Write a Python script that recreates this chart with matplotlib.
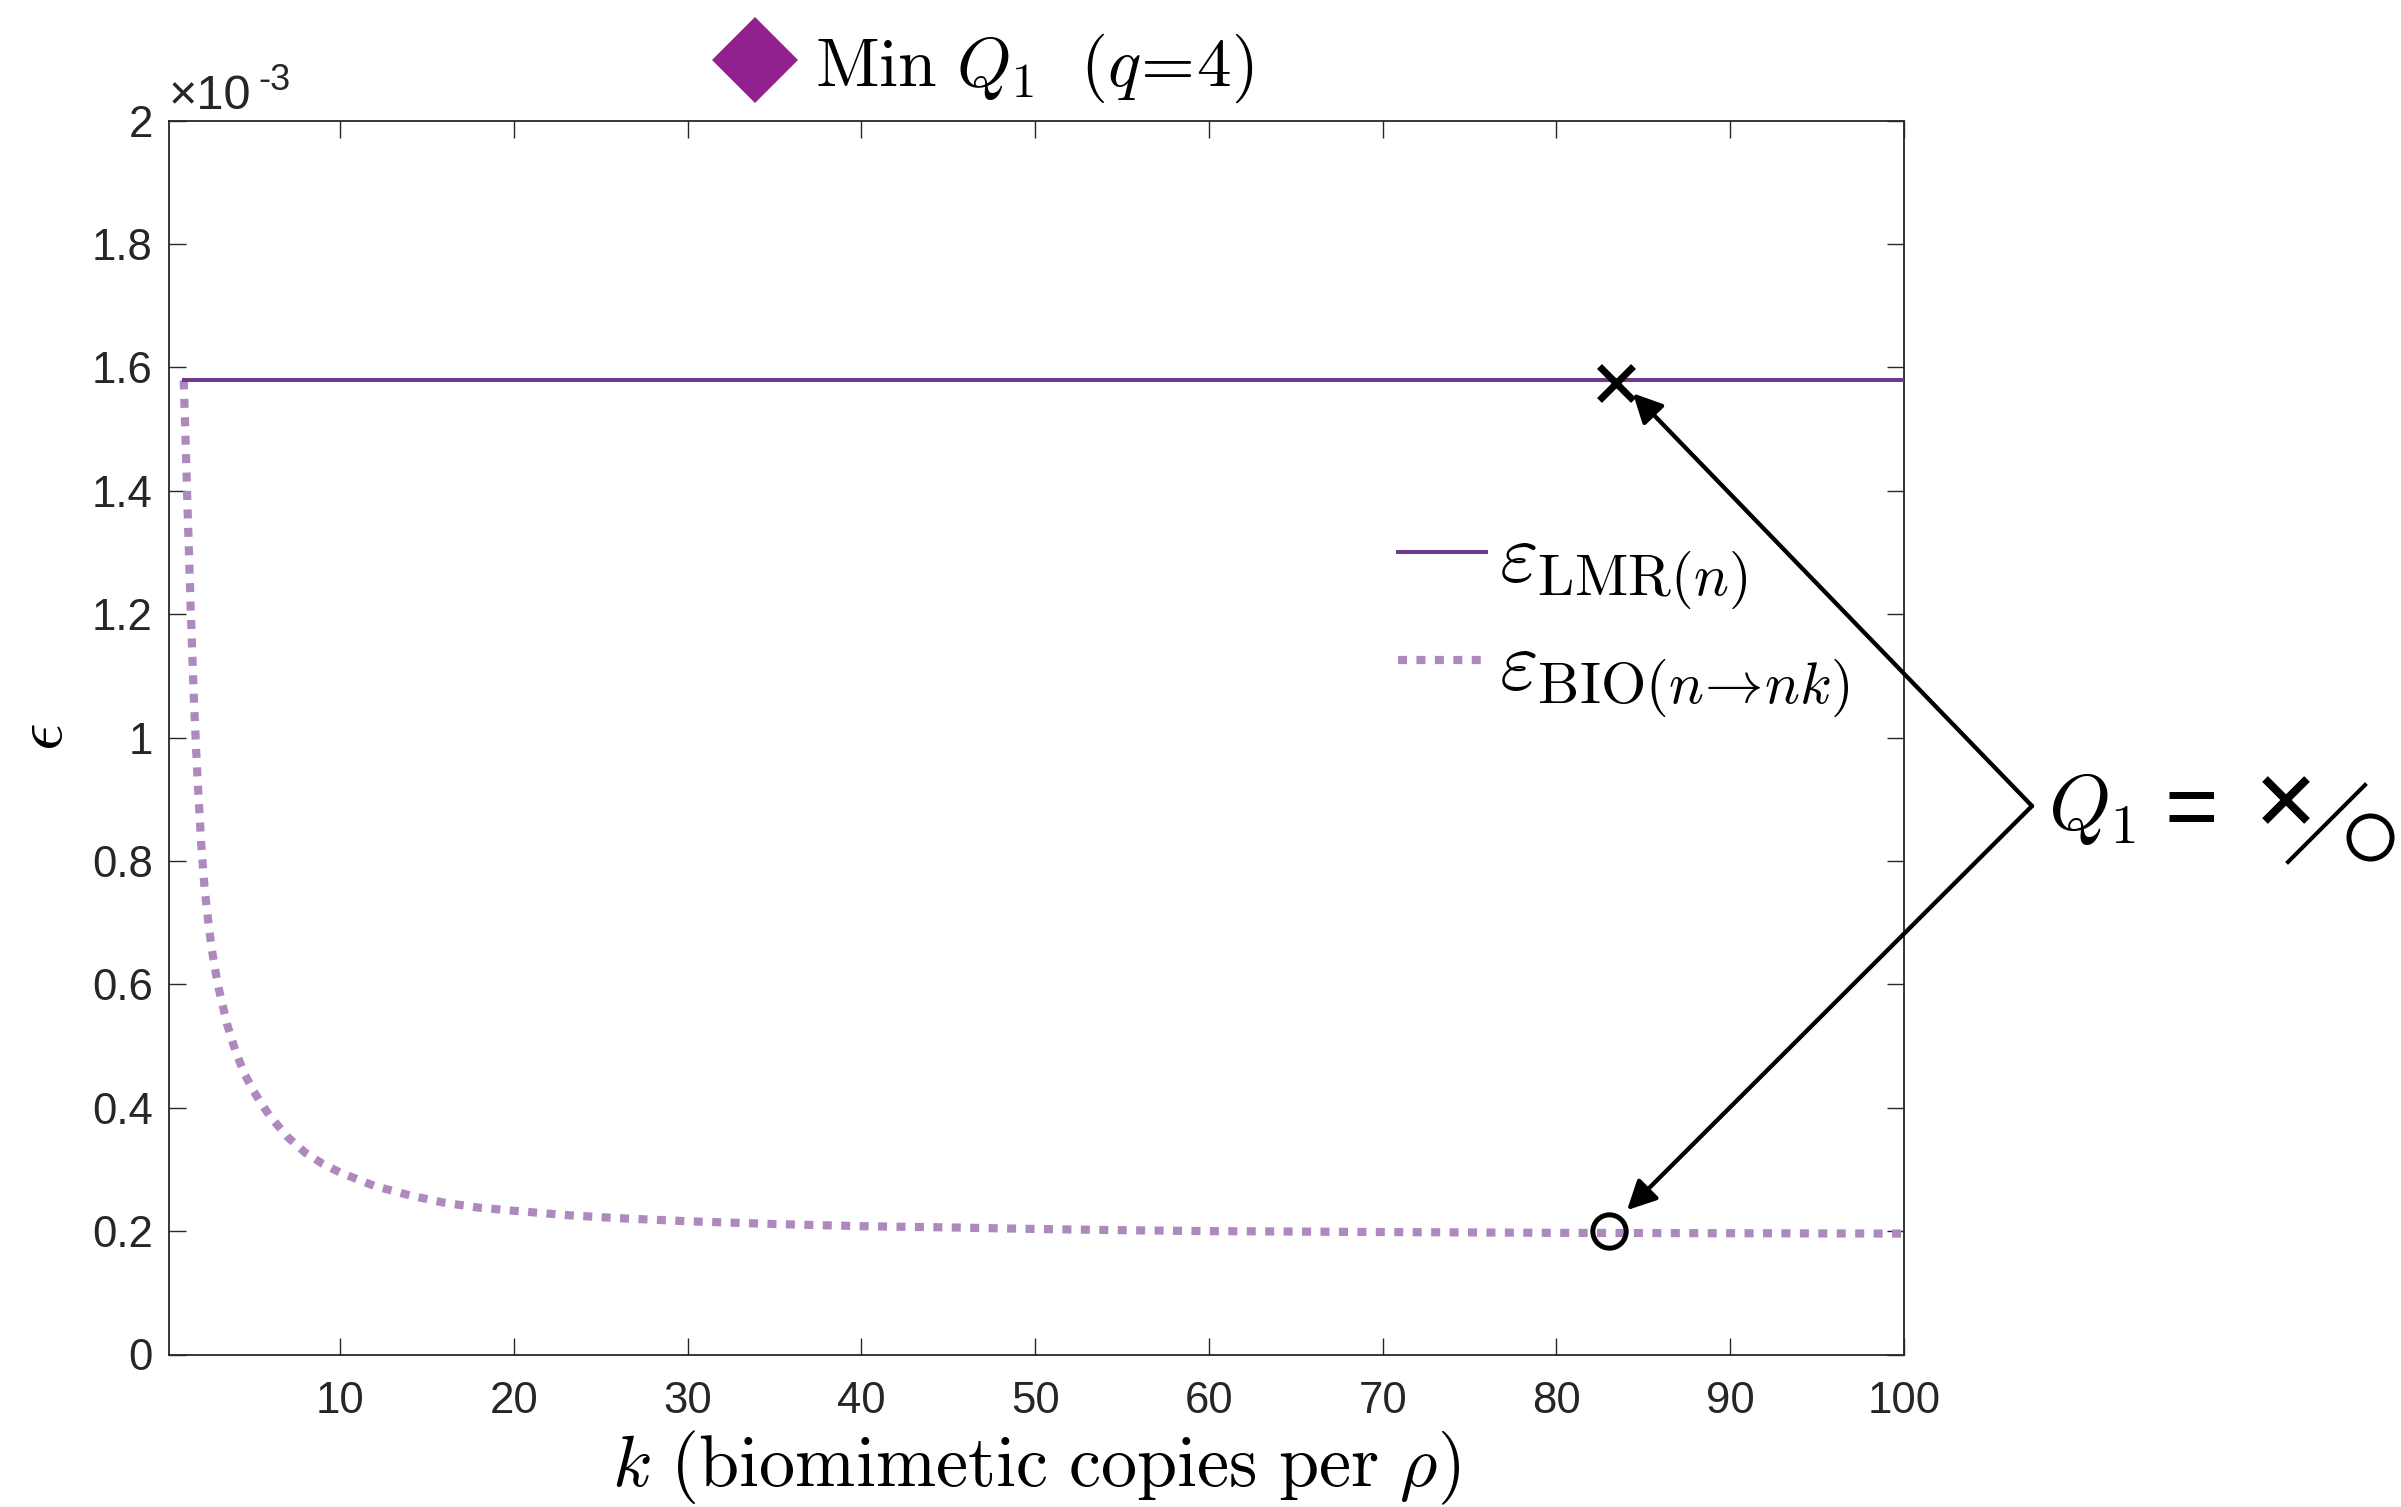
import matplotlib
matplotlib.use('Agg')
import matplotlib.pyplot as plt
from matplotlib.lines import Line2D
from matplotlib.ticker import FuncFormatter

plt.rcParams['mathtext.fontset'] = 'cm'
plt.rcParams['font.family'] = ['Liberation Sans', 'DejaVu Sans']

# ---------------- data (epsilon in units of 1e-3) ----------------
k_lmr = [1, 100]
eps_lmr = [1.579, 1.579]

k_bio = [1.0, 1.1, 1.2, 1.3, 1.4, 1.5, 1.6, 1.7, 1.8, 2.0, 2.2, 2.4, 2.6, 2.8,
         3.0, 3.5, 4.0, 4.5, 5.0, 5.5, 6.0, 7.0, 8.0, 9.0, 10, 12, 14, 16, 18,
         20, 23, 26, 30, 35, 40, 45, 50, 55, 60, 70, 80, 90, 100]
eps_bio = [1.579, 1.49, 1.39, 1.30, 1.21, 1.13, 1.05, 0.99, 0.93, 0.83, 0.755,
           0.705, 0.66, 0.625, 0.595, 0.535, 0.49, 0.455, 0.428, 0.405, 0.385,
           0.352, 0.327, 0.309, 0.295, 0.273, 0.258, 0.246, 0.238, 0.233,
           0.226, 0.221, 0.216, 0.2115, 0.208, 0.206, 0.2035, 0.2015, 0.200,
           0.1985, 0.1972, 0.1966, 0.196]

q1_k_lmr, q1_eps_lmr = 83.4, 1.575
q1_k_bio, q1_eps_bio = 83.0, 0.201

x_ticks = [10, 20, 30, 40, 50, 60, 70, 80, 90, 100]
y_ticks = [0, 0.2, 0.4, 0.6, 0.8, 1.0, 1.2, 1.4, 1.6, 1.8, 2.0]

label_lmr = r'$\varepsilon_{\mathrm{LMR}(n)}$'
label_bio = r'$\varepsilon_{\mathrm{BIO}(n\!\rightarrow\! nk)}$'
title_txt = r'$\mathrm{Min}\ Q_1\ \ (q\!=\!4)$'
xlabel_txt = r'$k\ (\mathrm{biomimetic\ copies\ per}\ \rho)$'
ylabel_txt = r'$\epsilon$'

# ---------------- colours ----------------
c_lmr = '#6C3B8C'
c_bio = '#AD89BD'
c_diamond = '#92208F'
c_axis = '#262626'

W, H = 2401, 1507
fig = plt.figure(figsize=(W / 100, H / 100), dpi=100)
ax = fig.add_axes([169.3 / W, 1 - 1354.5 / H, (1904 - 169.3) / W, (1354.5 - 120.7) / H])

ax.plot(k_bio, eps_bio, color=c_bio, lw=5.9, linestyle=(0, (1.1, 1.15)),
        dash_capstyle='butt', label=label_bio, zorder=2)
ax.plot(k_lmr, eps_lmr, color=c_lmr, lw=2.9, label=label_lmr, zorder=3)

ax.plot([q1_k_lmr], [q1_eps_lmr], marker='x', color='black', markersize=24.5,
        mew=5.0, linestyle='none', zorder=5)
ax.plot([q1_k_bio], [q1_eps_bio], marker='o', mfc='none', mec='black',
        markersize=24, mew=3.6, linestyle='none', zorder=5)

ax.set_xlim(0.17, 100)
ax.set_ylim(0, 2)
ax.set_xticks(x_ticks)
ax.set_yticks(y_ticks)
ax.yaxis.set_major_formatter(FuncFormatter(lambda v, p: '%g' % round(v, 3)))
ax.tick_params(direction='in', length=12.2, width=1.0, top=True, right=True,
               labelsize=31.5, colors=c_axis, labelcolor=c_axis)
ax.tick_params(axis='y', pad=12)
ax.tick_params(axis='x', pad=19)
for s in ax.spines.values():
    s.set_color(c_axis)
    s.set_linewidth(1.3)

ax.set_xlabel(xlabel_txt, fontsize=52)
ax.xaxis.set_label_coords(0.5, -0.060)
ax.set_ylabel(ylabel_txt, fontsize=49)
ax.yaxis.set_label_coords(-0.054, 0.5)

# x10^-3 multiplier
fig.text(169 / W, 1 - 109 / H, '\u00d710', fontsize=35, color=c_axis, va='baseline', ha='left')
fig.text(258 / W, 1 - 90 / H, '-3', fontsize=26, color=c_axis, va='baseline', ha='left')

# legend
handles = [Line2D([], [], color=c_lmr, lw=2.9),
           Line2D([], [], color=c_bio, lw=5.9, linestyle=(0, (1.1, 1.15)), dash_capstyle='butt')]
leg = ax.legend(handles, [label_lmr, label_bio], frameon=False, fontsize=60,
                handlelength=1.05, handletextpad=0.16, borderpad=0, borderaxespad=0,
                labelspacing=0.2, loc='upper left',
                bbox_to_anchor=(1398 / W, 1 - 520 / H), bbox_transform=fig.transFigure)

# title-like legend entry: diamond + text
fig.add_artist(Line2D([754.5 / W], [1 - 59.5 / H], marker='D', markersize=44,
                      color=c_diamond, mew=0, linestyle='none', transform=fig.transFigure))
fig.text(815 / W, 1 - 86 / H, title_txt, fontsize=50, va='baseline', ha='left')

# arrows from the Q1 annotation to the markers
vertex = (2032 / W, 1 - 806 / H)
aprops = dict(arrowstyle='-|>,head_length=0.4,head_width=0.2', mutation_scale=44,
              lw=3.1, color='black', shrinkA=0, shrinkB=0)
ax.annotate('', xy=(84.4, 1.558), xycoords='data', xytext=vertex,
            textcoords='figure fraction', arrowprops=aprops, annotation_clip=False)
ax.annotate('', xy=(84.06, 0.234), xycoords='data', xytext=vertex,
            textcoords='figure fraction', arrowprops=aprops, annotation_clip=False)

# Q1 = x / o
fig.text(2048 / W, 1 - 830 / H, r'$Q_1$', fontsize=57, va='baseline', ha='left')
fig.text(2191 / W, 1 - 805 / H, '=', fontsize=66, va='center_baseline', ha='center')
fig.add_artist(Line2D([2286 / W], [1 - 800 / H], marker='x', markersize=30, mew=5.8,
                      color='black', linestyle='none', transform=fig.transFigure))
fig.add_artist(Line2D([2288 / W, 2365 / W], [1 - 862 / H, 1 - 785 / H], lw=2.9,
                      color='black', transform=fig.transFigure))
fig.add_artist(Line2D([2370 / W], [1 - 837 / H], marker='o', markersize=31, mew=3.6,
                      mfc='none', mec='black', linestyle='none', transform=fig.transFigure))

fig.savefig('out.png', dpi=100)
